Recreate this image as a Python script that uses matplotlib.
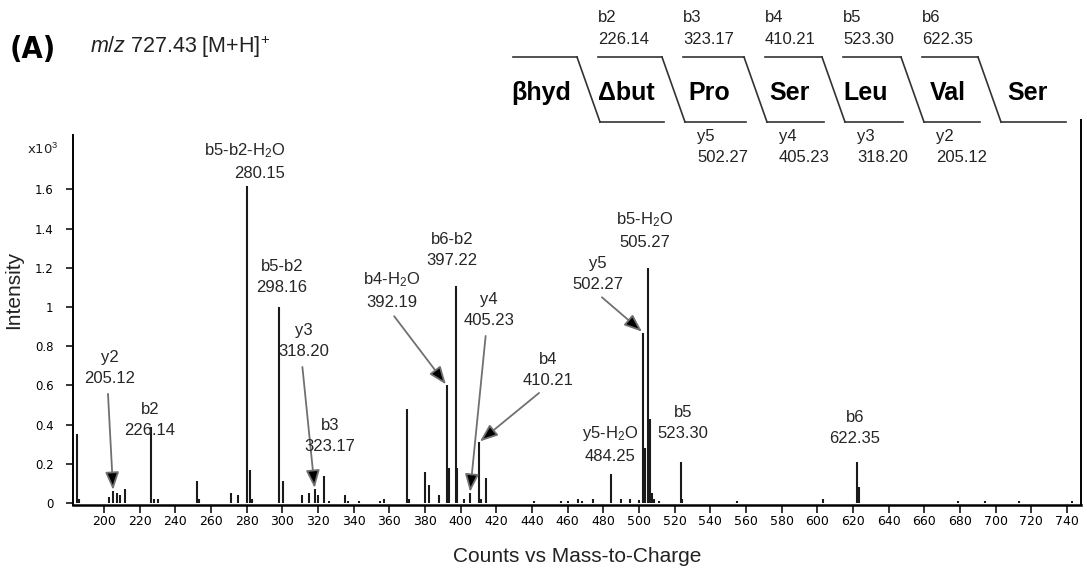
import matplotlib
matplotlib.use('Agg')
import matplotlib.pyplot as plt
from matplotlib.lines import Line2D

plt.rcParams['font.family'] = ['Liberation Sans', 'DejaVu Sans']
plt.rcParams['mathtext.fontset'] = 'custom'
plt.rcParams['mathtext.rm'] = 'Liberation Sans'
plt.rcParams['mathtext.it'] = 'Liberation Sans:italic'

# MS/MS centroid list: m/z and intensity (x10^3 counts)
peak_mz = [184.9, 186.2, 203.0, 205.12, 207.0, 209.0, 212.0, 226.14, 228.1, 230.0,
           252.0, 253.2, 271.0, 275.0, 280.15, 282.0, 283.1, 298.16, 300.1, 311.0,
           315.0, 318.20, 320.0, 323.17, 326.0, 335.0, 337.0, 343.0, 355.0, 357.0,
           370.0, 371.2, 380.0, 382.0, 388.0, 392.19, 393.2, 397.22, 398.2, 402.0,
           405.23, 410.21, 411.2, 414.0, 441.0, 456.0, 460.0, 466.0, 468.0, 474.0,
           484.25, 490.0, 495.0, 500.0, 502.27, 503.3, 505.27, 506.3, 507.3, 508.3,
           511.0, 523.30, 524.3, 555.0, 603.0, 622.35, 623.4, 679.0, 694.0, 713.0,
           743.0]
peak_int = [0.35, 0.02, 0.03, 0.06, 0.05, 0.04, 0.07, 0.39, 0.02, 0.02,
            0.11, 0.02, 0.05, 0.04, 1.62, 0.17, 0.02, 1.00, 0.11, 0.04,
            0.05, 0.07, 0.04, 0.14, 0.01, 0.04, 0.01, 0.01, 0.01, 0.02,
            0.48, 0.02, 0.16, 0.09, 0.04, 0.60, 0.18, 1.11, 0.18, 0.02,
            0.05, 0.31, 0.02, 0.13, 0.01, 0.01, 0.01, 0.02, 0.01, 0.02,
            0.15, 0.02, 0.02, 0.015, 0.87, 0.28, 1.20, 0.43, 0.05, 0.02,
            0.01, 0.21, 0.02, 0.01, 0.02, 0.21, 0.08, 0.01, 0.01, 0.01,
            0.01]

# annotated fragment ions
frag_names = ['y2', 'b2', 'b5-b2-H$_2$O', 'b5-b2', 'y3', 'b3', 'b4-H$_2$O', 'b6-b2',
              'y4', 'b4', 'y5-H$_2$O', 'y5', 'b5-H$_2$O', 'b5', 'b6']
frag_mz = [205.12, 226.14, 280.15, 298.16, 318.20, 323.17, 392.19, 397.22,
           405.23, 410.21, 484.25, 502.27, 505.27, 523.30, 622.35]

# peptide sequence with b / y ladder
residues = ['βhyd', 'Δbut', 'Pro', 'Ser', 'Leu', 'Val', 'Ser']
b_names = ['b2', 'b3', 'b4', 'b5', 'b6']
b_mz = [226.14, 323.17, 410.21, 523.30, 622.35]
y_names = ['y5', 'y4', 'y3', 'y2']
y_mz = [502.27, 405.23, 318.20, 205.12]

x_ticks = list(range(200, 741, 20))
y_ticks = [0, 0.2, 0.4, 0.6, 0.8, 1.0, 1.2, 1.4, 1.6]
y_ticklabels = ['0', '0.2', '0.4', '0.6', '0.8', '1', '1.2', '1.4', '1.6']

# label placement (m/z, intensity) for each fragment, arrow or not
label_pos = [(203.4, 0.69), (225.8, 0.423), (279.0, 1.745), (299.8, 1.153),
             (312.2, 0.827), (326.7, 0.342), (361.5, 1.087), (395.2, 1.291),
             (415.9, 0.985), (449.0, 0.679), (483.8, 0.301), (477.1, 1.168),
             (503.4, 1.393), (524.7, 0.408), (621.2, 0.383)]
has_arrow = [True, False, False, False, True, False, True, False,
             True, True, False, True, False, False, False]

W, H = 1087, 577
fig = plt.figure(figsize=(W / 100, H / 100), dpi=100)
ax = fig.add_axes([73 / W, 1 - 505 / H, (1081 - 73) / W, (505 - 135) / H])

ax.vlines(peak_mz, 0, peak_int, colors='#1a1a1a', linewidth=1.5)
ax.set_xlim(182.6, 747.9)
ax.set_ylim(-0.01, 1.878)

for sp in ['top', 'right']:
    ax.spines[sp].set_visible(False)
ax.spines['left'].set_linewidth(1.4)
ax.spines['bottom'].set_linewidth(1.8)

ax.set_xticks(x_ticks)
ax.set_xticklabels([str(t) for t in x_ticks], family='DejaVu Sans', fontsize=9)
ax.set_yticks(y_ticks)
ax.set_yticklabels(y_ticklabels, family='DejaVu Sans', fontsize=8.5)
ax.tick_params(axis='x', direction='out', length=6, width=1.1, pad=1)
ax.tick_params(axis='y', direction='out', length=5, width=1.1, pad=9)

ax.set_xlabel('Counts vs Mass-to-Charge', fontsize=15, color='#222222', labelpad=14)

for name, mz, (tx, ty), arrow in zip(frag_names, frag_mz, label_pos, has_arrow):
    h = peak_int[peak_mz.index(mz)]
    text = f'{name}\n{mz:.2f}'
    malign = 'right' if name.startswith('b5-b2-') else 'center'
    if arrow:
        ax.annotate(text, xy=(mz, h), xytext=(tx, ty), ha='center', va='center',
                    fontsize=12, color='#262626', linespacing=1.45, multialignment=malign,
                    arrowprops=dict(arrowstyle='-|>,head_length=0.9,head_width=0.35',
                                    fc='black', ec='#707070', lw=1.3,
                                    shrinkA=6, shrinkB=1, relpos=(0.45, 0), patchA=None))
    else:
        ax.text(tx, ty, text, ha='center', va='center', fontsize=12,
                color='#262626', linespacing=1.45, multialignment=malign)

# header, scale note and sequence diagram in pixel space
ov = fig.add_axes([0, 0, 1, 1], facecolor='none')
ov.set_xlim(0, W)
ov.set_ylim(H, 0)
ov.axis('off')

ov.text(10, 49, '(A)', family='DejaVu Sans', fontstretch='condensed',
        fontweight='bold', fontsize=22, ha='left', va='center')
ov.text(90, 47, r'$m/z$ 727.43 [M+H]$^{+}$', fontsize=15.5, ha='left', va='center', color='#222222')
ov.text(27, 149, r'x10$^{3}$', family='DejaVu Sans', fontsize=9.5, ha='left', va='center', color='#222222')
ov.text(14, 290, 'Intensity', rotation=90, fontsize=15, ha='center', va='center', color='#222222')

# right frame line of the spectrum
ov.add_line(Line2D([1081, 1081], [120, 505], color='black', lw=1.4))

top_y, bot_y = 57, 122
cut_top = [577, 662, 744, 822, 901, 978]
slant = 23
res_x = [541, 626, 709, 789, 866, 948, 1027]
seg_kw = dict(color='#333333', lw=1.2)

ov.add_line(Line2D([513, cut_top[0]], [top_y, top_y], **seg_kw))
for k, c in enumerate(cut_top):
    ov.add_line(Line2D([c, c + slant], [top_y, bot_y], **seg_kw))
    if k > 0:
        ov.add_line(Line2D([cut_top[k - 1] + 21, c], [top_y, top_y], **seg_kw))
        ov.add_line(Line2D([cut_top[k - 1] + slant, c + 2], [bot_y, bot_y], **seg_kw))
ov.add_line(Line2D([cut_top[-1] + slant, 1066], [bot_y, bot_y], **seg_kw))

for name, x in zip(residues, res_x):
    ov.text(x, 93, name, fontsize=18, fontweight='bold', ha='center', va='center')

for k, (name, mz) in enumerate(zip(b_names, b_mz)):
    x0 = cut_top[k] + 21
    ov.text(x0, 18, name, fontsize=12, ha='left', va='center', color='#222222')
    ov.text(x0, 40, f'{mz:.2f}', fontsize=12, ha='left', va='center', color='#222222')

for k, (name, mz) in enumerate(zip(y_names, y_mz)):
    x0 = cut_top[k + 1] + slant + 12
    ov.text(x0, 137, name, fontsize=12, ha='left', va='center', color='#222222')
    ov.text(x0, 158, f'{mz:.2f}', fontsize=12, ha='left', va='center', color='#222222')

fig.savefig('out.png', dpi=100)
